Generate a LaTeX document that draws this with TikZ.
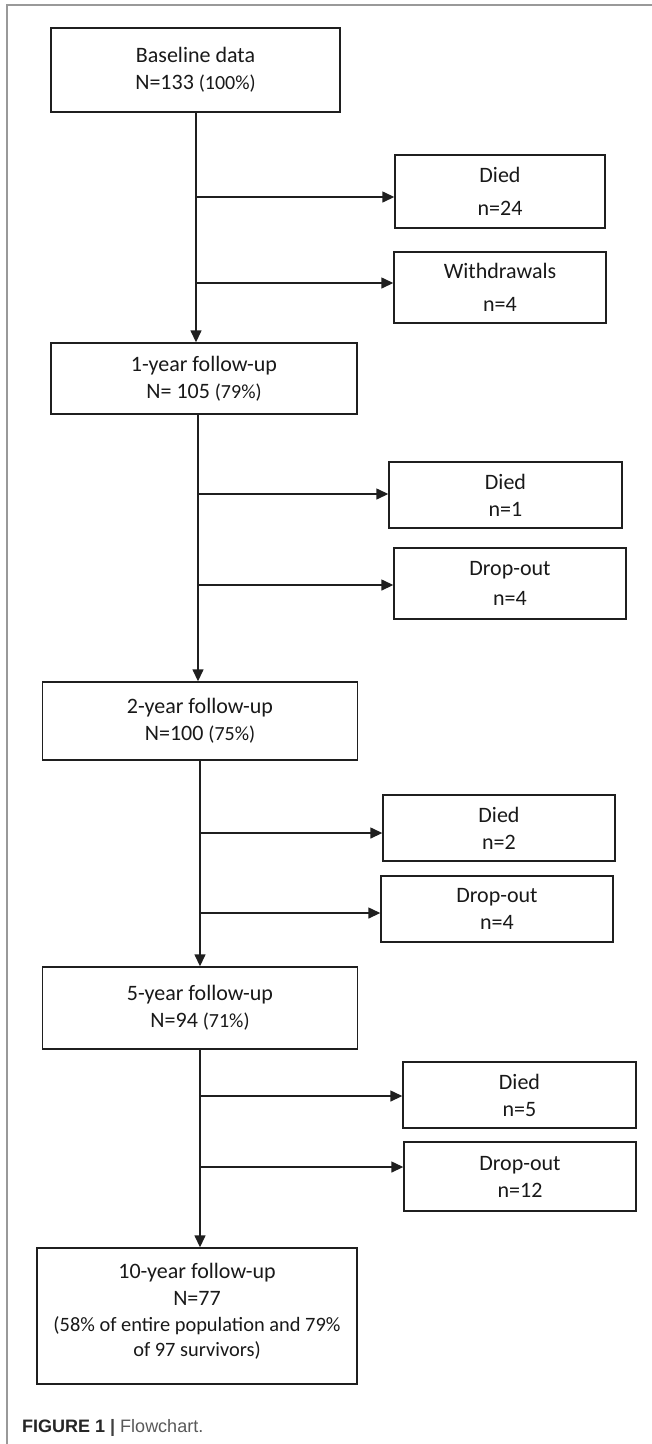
\documentclass[tikz,border=0pt]{standalone}
\usepackage{fontspec}
\setmainfont{Carlito}
\newfontfamily\capfont{Liberation Sans}
\usetikzlibrary{arrows.meta}
\newcommand\mypct[1]{{\fontsize{20}{27}\selectfont #1}}
\begin{document}
\begin{tikzpicture}[x=1pt,y=-1pt,
  box/.style={draw=black!88, line width=1.4pt, rectangle, inner sep=0pt, align=center,
    font=\fontsize{22}{27}\selectfont, text=black!90},
  arr/.style={draw=black!88, line width=1.4pt, -{Triangle[length=12pt,width=11pt]}},
  frame/.style={draw=black!40, line width=1.5pt}]
\useasboundingbox (0,0) rectangle (652,1444);
\fill[white] (0,0) rectangle (652,1444);
\draw[frame] (652,5) -- (7,5) -- (7,1444);

% main boxes
\node[box, minimum width=289pt, minimum height=84pt] (base) at (195.5,70)
  {Baseline data\\N=133 \mypct{(100\%)}};
\node[box, minimum width=306pt, minimum height=71pt] (y1) at (204,378.5)
  {1-year follow-up\\N= 105 \mypct{(79\%)}};
\node[box, minimum width=314.5pt, minimum height=78pt] (y2) at (200,721)
  {2-year follow-up\\N=100 \mypct{(75\%)}};
\node[box, minimum width=314.5pt, minimum height=82pt] (y5) at (200,1008)
  {5-year follow-up\\N=94 \mypct{(71\%)}};
\node[box, minimum width=320pt, minimum height=136pt, text depth=12pt] (y10) at (197,1316)
  {10-year follow-up\\N=77\\[-1pt]{\fontsize{20.4}{24}\selectfont (58\% of entire population and 79\%}\\[-2pt]{\fontsize{20.4}{24}\selectfont of 97 survivors)}};

% side boxes
\node[box, minimum width=210pt, minimum height=73pt] (d1) at (500,191.5) {Died\\[6pt]n=24};
\node[box, minimum width=212pt, minimum height=71pt] (w1) at (500,287.5) {Withdrawals\\[6pt]n=4};
\node[box, minimum width=233pt, minimum height=66pt] (d2) at (505.5,495) {Died\\n=1};
\node[box, minimum width=232pt, minimum height=71pt] (o2) at (510,583.5) {Drop-out\\[3pt]n=4};
\node[box, minimum width=232pt, minimum height=66pt] (d3) at (499,828) {Died\\n=2};
\node[box, minimum width=232pt, minimum height=66pt] (o3) at (497,909) {Drop-out\\n=4};
\node[box, minimum width=233pt, minimum height=66pt] (d4) at (519.5,1095) {Died\\n=5};
\node[box, minimum width=232pt, minimum height=69pt] (o4) at (520,1176.5) {Drop-out\\n=12};

% branch points
\coordinate (a1) at (196,197);
\coordinate (a2) at (196,283);
\coordinate (b1) at (198,494);
\coordinate (b2) at (198,585);
\coordinate (c1) at (200,833);
\coordinate (c2) at (200,913);
\coordinate (e1) at (200,1096);
\coordinate (e2) at (200,1167);

% vertical connectors
\draw[arr] (base.south -| a1) -- (y1.north -| a1);
\draw[arr] (y1.south -| b1) -- (y2.north -| b1);
\draw[arr] (y2.south -| c1) -- (y5.north -| c1);
\draw[arr] (y5.south -| e1) -- (y10.north -| e1);

% branch arrows
\draw[arr] (a1) -- (a1 -| d1.west);
\draw[arr] (a2) -- (a2 -| w1.west);
\draw[arr] (b1) -- (b1 -| d2.west);
\draw[arr] (b2) -- (b2 -| o2.west);
\draw[arr] (c1) -- (c1 -| d3.west);
\draw[arr] (c2) -- (c2 -| o3.west);
\draw[arr] (e1) -- (e1 -| d4.west);
\draw[arr] (e2) -- (e2 -| o4.west);

% caption
\node[anchor=west, inner sep=0pt, font=\capfont\fontsize{18}{20}\selectfont] (cap) at (22,1428)
  {\textcolor{black!85}{\textbf{FIGURE 1}} \textcolor{black!75}{\textbf{|}} \textcolor{black!65}{Flowchart.}};
\end{tikzpicture}
\end{document}
